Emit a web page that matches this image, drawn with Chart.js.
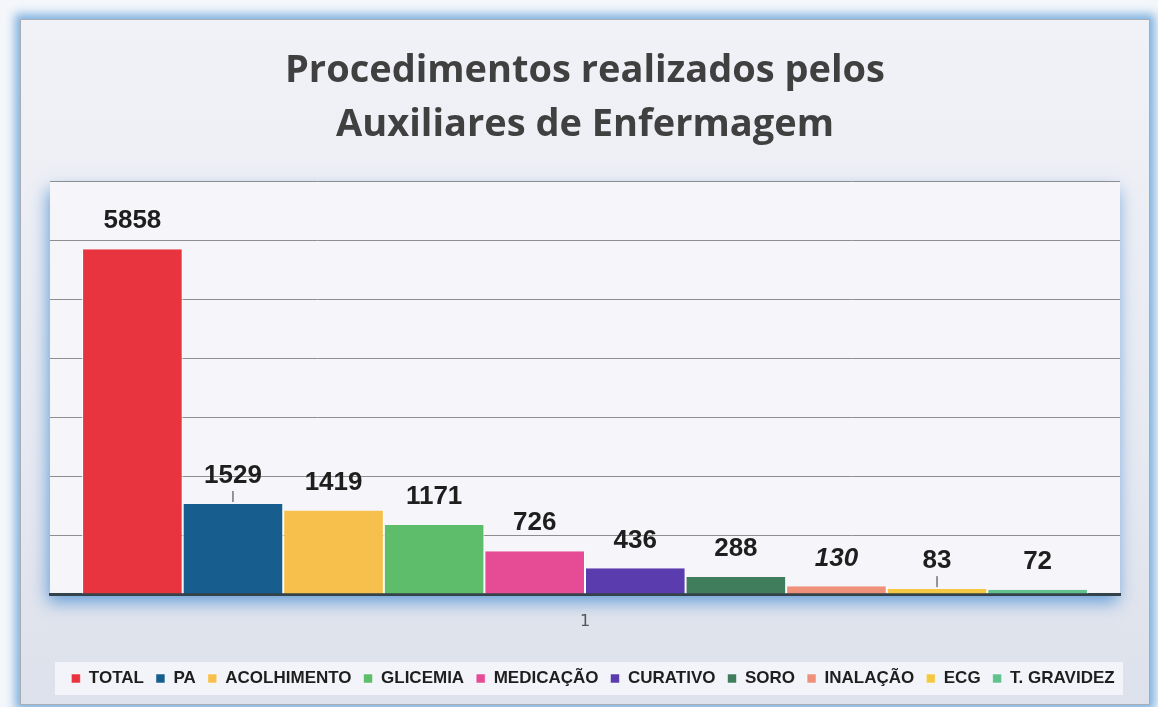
<!DOCTYPE html>
<html>
<head>
<meta charset="utf-8">
<script src="https://cdn.jsdelivr.net/npm/chart.js@4.4.1/dist/chart.umd.min.js"></script>
<style>
  html, body { margin: 0; padding: 0; width: 1158px; height: 707px; overflow: hidden; background: #f4f6fa; }
  #card {
    position: absolute; left: 20px; top: 19px; width: 1128px; height: 684px;
    background: linear-gradient(180deg, #f1f2f7 0%, #e8eaf2 60%, #dde1eb 100%);
    border: 1px solid #a9adb5;
    box-shadow: 0 0 9px 5px #7fb2e0;
  }
  #c { position: absolute; left: 0; top: 0; }
</style>
</head>
<body>
<div id="card"></div>
<canvas id="c" width="1158" height="707"></canvas>
<script>
const titleLines = ['Procedimentos realizados pelos', 'Auxiliares de Enfermagem'];
const categories = ['1'];
const seriesNames = ['TOTAL', 'PA', 'ACOLHIMENTO', 'GLICEMIA', 'MEDICAÇÃO', 'CURATIVO', 'SORO', 'INALAÇÃO', 'ECG', 'T. GRAVIDEZ'];
const seriesValues = [5858, 1529, 1419, 1171, 726, 436, 288, 130, 83, 72];
const seriesColors = ['#e8343f', '#175d8d', '#f7bf4b', '#5dbd6b', '#e64b96', '#5b3cae', '#3f7d5d', '#ef917a', '#f4c843', '#62c28e'];
const yTicks = [0, 1000, 2000, 3000, 4000, 5000, 6000, 7000];

const datasets = seriesNames.map((name, i) => ({
  label: name,
  data: [seriesValues[i]],
  backgroundColor: seriesColors[i],
  borderColor: '#ffffff',
  borderWidth: { left: 1, right: 1, top: 0, bottom: 0 },
  borderSkipped: 'bottom'
}));

const bgPlugin = {
  id: 'bg',
  afterLayout(chart) {
    const lg = chart.legend;
    lg.left += 8; lg.right += 8;
  },
  beforeDraw(chart) {
    const { ctx, chartArea: a } = chart;
    ctx.save();
    const lg = chart.legend;
    ctx.fillStyle = 'rgba(246,247,251,0.85)';
    ctx.fillRect(55, lg.top + 4, 1068, lg.height - 6);
    ctx.shadowColor = 'rgba(70,140,210,0.8)';
    ctx.shadowBlur = 16;
    ctx.shadowOffsetX = -2;
    ctx.shadowOffsetY = 8;
    ctx.fillStyle = '#f6f6fa';
    ctx.fillRect(a.left, a.top, a.right - a.left, a.bottom - a.top);
    ctx.restore();
  }
};

const labelPlugin = {
  id: 'valueLabels',
  afterDatasetsDraw(chart, args, opts) {
    const { ctx } = chart;
    ctx.save();
    ctx.textAlign = 'center';
    ctx.textBaseline = 'middle';
    ctx.fillStyle = '#1e1e1e';
    chart.data.datasets.forEach((ds, i) => {
      const meta = chart.getDatasetMeta(i);
      const bar = meta.data[0];
      const italic = opts.italic.includes(ds.label);
      ctx.font = (italic ? 'italic ' : '') + 'bold 26px "Liberation Sans", Arial, sans-serif';
      const ty = bar.y - opts.offset;
      ctx.fillText(String(ds.data[0]), bar.x, ty);
      if (opts.leaders.includes(ds.label)) {
        ctx.strokeStyle = '#333';
        ctx.lineWidth = 1;
        ctx.beginPath();
        ctx.moveTo(bar.x, ty + 15);
        ctx.lineTo(bar.x, bar.y - 2);
        ctx.stroke();
      }
    });
    ctx.restore();
  }
};

new Chart(document.getElementById('c'), {
  type: 'bar',
  data: { labels: categories, datasets },
  plugins: [bgPlugin, labelPlugin],
  options: {
    responsive: false,
    animation: false,
    layout: { padding: { left: 50, right: 38, top: 0, bottom: 10 } },
    datasets: { bar: { categoryPercentage: 0.94, barPercentage: 1.0 } },
    scales: {
      x: {
        grid: { display: false, drawTicks: false },
        border: { display: true, color: '#34434a', width: 3 },
        ticks: { color: '#555', font: { family: '"DejaVu Sans", sans-serif', size: 16 }, padding: 18 },
        afterFit(s) { s.height = 64; }
      },
      y: {
        min: 0, max: 7000,
        afterBuildTicks(s) { s.ticks = yTicks.map(v => ({ value: v })); },
        grid: { color: '#8e8e90', lineWidth: 1, drawTicks: false },
        border: { display: false },
        ticks: { display: false },
        afterFit(s) { s.width = 0; }
      }
    },
    plugins: {
      title: {
        display: true,
        text: titleLines,
        color: '#404040',
        font: { family: '"Open Sans", sans-serif', size: 38, weight: 'bold', lineHeight: 1.42 },
        padding: { top: 44, bottom: 30 }
      },
      legend: {
        position: 'bottom',
        labels: {
          color: '#1e1e1e',
          font: { family: '"Liberation Sans", Arial, sans-serif', size: 17, weight: 'bold' },
          boxWidth: 9, boxHeight: 9, padding: 12
        }
      },
      tooltip: { enabled: false },
      valueLabels: { offset: 28, italic: ['INALAÇÃO'], leaders: ['PA', 'ECG'] }
    }
  }
});
</script>
</body>
</html>
